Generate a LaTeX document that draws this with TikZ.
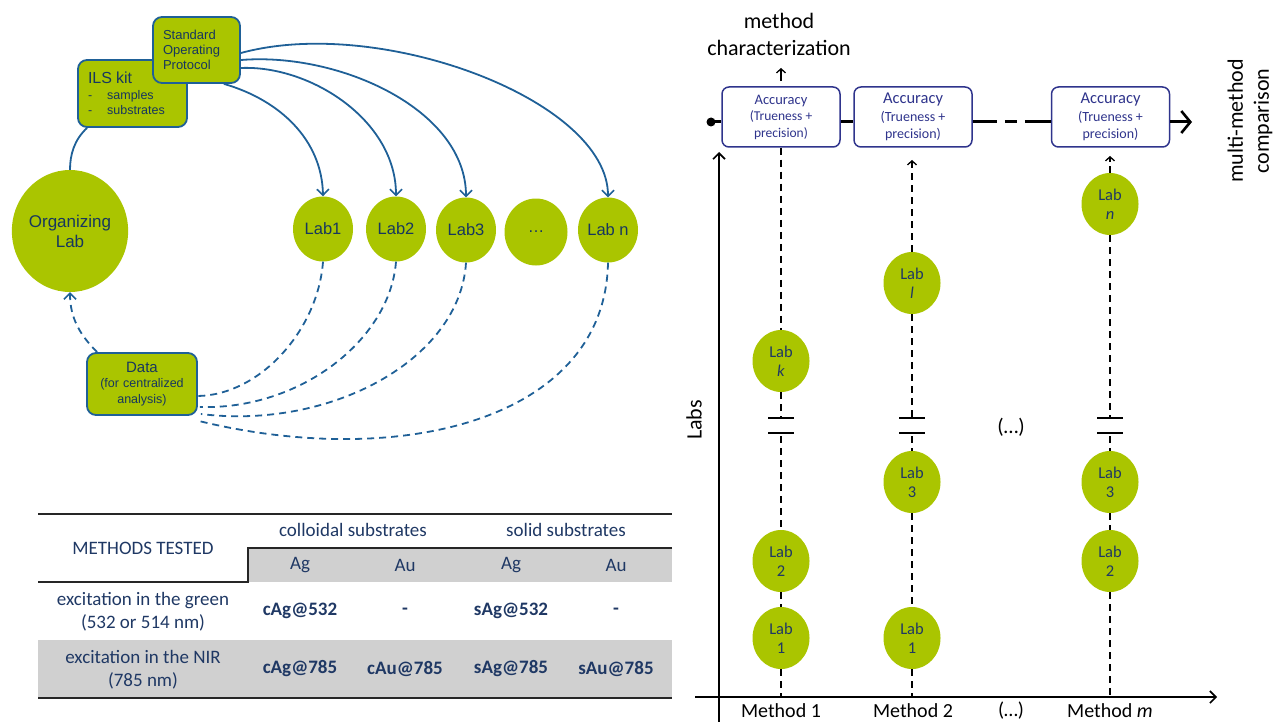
\documentclass[tikz,border=0pt]{standalone}
\usepackage{fontspec}
\setmainfont{Carlito}
\newfontfamily\arialf{Liberation Sans}
\usetikzlibrary{shapes.geometric,arrows.meta}
\definecolor{lgreen}{RGB}{170,197,0}
\definecolor{lblue}{RGB}{31,96,151}
\definecolor{ltext}{RGB}{23,55,94}
\definecolor{navy}{RGB}{31,56,100}
\definecolor{accb}{RGB}{47,52,140}
\definecolor{tgray}{RGB}{208,208,208}
\begin{document}
\begin{tikzpicture}[x=1pt,y=-1pt,
  greenlab/.style={ellipse, fill=lgreen, inner sep=0pt, text=ltext, font=\arialf\fontsize{16.5}{19}\selectfont, minimum width=60pt, minimum height=65pt, align=center},
  greenbox/.style={draw=lblue, line width=1.8pt, fill=lgreen, rounded corners=9pt, text=ltext, inner ysep=0pt, inner xsep=10pt},
  bluearrow/.style={draw=lblue, line width=1.8pt, -{Straight Barb[length=6pt,width=12pt,line width=1.6pt]}},
  bluedash/.style={draw=lblue, line width=1.8pt, dash pattern=on 7pt off 5pt},
  rlab/.style={ellipse, fill=lgreen, inner sep=0pt, text=navy, font=\fontsize{16.5}{19}\selectfont, minimum width=57pt, minimum height=62pt, align=center},
  accbox/.style={draw=accb, line width=1.5pt, fill=white, rounded corners=7pt, minimum width=118pt, minimum height=60pt, text=accb, align=center, inner sep=0pt},
  vdash/.style={black, line width=1.5pt, dash pattern=on 7pt off 5pt},
  smallarrow/.style={black, line width=1.3pt, -{Straight Barb[length=4pt,width=9pt,line width=1.3pt]}},
  axisline/.style={black, line width=1.6pt, -{Straight Barb[length=6pt,width=12pt,line width=1.6pt]}},
  brk/.style={black, line width=2.5pt},
  tabtext/.style={text=navy, font=\fontsize{19}{23}\selectfont, align=center, inner sep=0pt},
  tabbold/.style={text=navy, font=\bfseries\fontsize{19}{23}\selectfont, inner sep=0pt},
  tabrule/.style={line width=2pt, black!85}
]
\useasboundingbox (0,0) rectangle (1273,722);

% ---------------- left diagram ----------------
\node[greenlab, minimum width=116pt, minimum height=122pt, font=\arialf\fontsize{17}{20}\selectfont] (org) at (70,231) {Organizing\\Lab};
\node[greenlab] (lab1) at (323,229) {Lab1};
\node[greenlab] (lab2) at (396,229) {Lab2};
\node[greenlab] (lab3) at (466,230) {Lab3};
\node[greenlab, minimum width=63pt, minimum height=67pt] (labd) at (536,232) {…};
\node[greenlab] (labn) at (608,230) {Lab n};

\node[greenbox, minimum width=109pt, minimum height=67pt, text width=89pt, align=left, font=\arialf\fontsize{12.5}{15}\selectfont] (ils) at (132.5,93.5)
  {{\fontsize{16}{17}\selectfont ILS kit}\\[1pt]-\hspace{15pt}samples\\-\hspace{15pt}substrates};
\node[greenbox, minimum width=87pt, minimum height=66pt, text width=67pt, align=left, font=\arialf\fontsize{13}{15}\selectfont] (sop) at (196.5,50)
  {Standard\\Operating\\Protocol};
\node[greenbox, minimum width=110pt, minimum height=62pt, text width=90pt, align=center, font=\arialf\fontsize{12.5}{15.5}\selectfont] (data) at (142,384)
  {{\fontsize{15}{17}\selectfont Data}\\(for centralized\\analysis)};

\draw[draw=lblue, line width=1.8pt] ([xshift=10pt]ils.south west) .. controls (74,140) and (70,155) .. (org.north);
\draw[bluedash, -{Straight Barb[length=6pt,width=12pt,line width=1.6pt]}] ([xshift=11pt]data.north west) .. controls (80,335) and (70,318) .. (org.south);

\draw[bluearrow] ([xshift=-17pt]sop.south east) .. controls (280,100) and (322,140) .. (lab1.north);
\draw[bluearrow] ([yshift=-18pt]sop.east) .. controls (310,65) and (396,120) .. (lab2.north);
\draw[bluearrow] ([yshift=-10pt]sop.east) .. controls (340,52) and (466,110) .. (lab3.north);
\draw[bluearrow] ([yshift=-3pt]sop.east) .. controls (380,15) and (608,100) .. (labn.north);

\draw[bluedash] (lab1.south) .. controls (318,330) and (260,395) .. ([yshift=-12pt]data.east);
\draw[bluedash] (lab2.south) .. controls (390,340) and (300,410) .. ([shift={(2pt,-23pt)}]data.east);
\draw[bluedash] (lab3.south) .. controls (460,360) and (330,430) .. ([shift={(3pt,-30pt)}]data.east);
\draw[bluedash] (labn.south) .. controls (605,420) and (400,470) .. ([shift={(1pt,-37pt)}]data.east);

% ---------------- table ----------------
\fill[tgray] (248,548) rectangle (672,582);
\fill[tgray] (38,640) rectangle (672,698);
\coordinate (tl) at (38,514); \coordinate (tr) at (672,514);
\draw[tabrule] (tl) -- (tr);
\coordinate (hm) at (248,548); \coordinate (hr) at (672,548);
\coordinate (hb) at (248,582); \coordinate (hl) at (38,582);
\draw[tabrule] (hr) -- (hm) -- (hb) -- (hl);
\coordinate (bl) at (38,698); \coordinate (br) at (672,698);
\draw[tabrule] (bl) -- (br);

\node[tabtext] (mt) at (143,548) {METHODS TESTED};
\node[tabtext] (cs) at (353,530) {colloidal substrates};
\node[tabtext] (ss) at (566,530) {solid substrates};
\node[tabtext] (h1) at (300,565) {Ag};
\node[tabtext] (h2) at (405,565) {Au};
\node[tabtext] (h3) at (511,565) {Ag};
\node[tabtext] (h4) at (616,565) {Au};
\node[tabtext] (r1) at (143,612) {excitation in the green\\(532 or 514 nm)};
\node[tabbold] (r1a) at (300,611) {cAg@532};
\node[tabbold] (r1b) at (405,611) {-};
\node[tabbold] (r1c) at (511,611) {sAg@532};
\node[tabbold] (r1d) at (616,611) {-};
\node[tabtext] (r2) at (143,670) {excitation in the NIR\\(785 nm)};
\node[tabbold] (r2a) at (300,669) {cAg@785};
\node[tabbold] (r2b) at (405,669) {cAu@785};
\node[tabbold] (r2c) at (511,669) {sAg@785};
\node[tabbold] (r2d) at (616,669) {sAu@785};

% ---------------- right diagram ----------------
\coordinate (yb) at (719,722); \coordinate (yt) at (719,152);
\coordinate (xl) at (695,697); \coordinate (xr) at (1217,697);
\draw[axisline] (yb) -- (yt);
\draw[axisline] (xl) -- (xr);
\node[rotate=90, font=\fontsize{22}{26}\selectfont] (labs) at (694,420) {Labs};

\node[font=\fontsize{20}{24}\selectfont] (m1) at (781,711) {Method 1};
\node[font=\fontsize{20}{24}\selectfont] (m2) at (913,711) {Method 2};
\node[font=\fontsize{20}{24}\selectfont] (m3) at (1011,711) {(…)};
\node[font=\fontsize{20}{24}\selectfont] (m4) at (1110,711) {Method \textit{m}};

\node[font=\fontsize{22}{27}\selectfont, align=center] (mc) at (779,34) {method\\characterization};
\node[rotate=90, font=\fontsize{22}{26}\selectfont, align=center] (mm) at (1250,121) {multi-method\\comparison};

\node[circle, fill=black, inner sep=0pt, minimum size=9pt] (dot) at (711,122) {};
\coordinate (tip) at (1192,122);

\node[accbox, font=\fontsize{13.5}{16.5}\selectfont] (box1) at (781,117) {{\fontsize{14.5}{17}\selectfont Accuracy}\\(Trueness +\\precision)};
\node[accbox, font=\fontsize{14}{17.5}\selectfont] (box2) at (913,117) {{\fontsize{16.5}{18}\selectfont Accuracy}\\(Trueness +\\precision)};
\node[accbox, font=\fontsize{14}{17.5}\selectfont] (box3) at (1110.5,117) {{\fontsize{16.5}{18}\selectfont Accuracy}\\(Trueness +\\precision)};

\draw[line width=3pt] (dot.center) -- (box1.west |- dot);
\draw[line width=3pt] (box1.east |- dot) -- (box2.west |- dot);
\draw[line width=3pt, dash pattern=on 24pt off 8pt on 12pt off 8pt on 30pt] (box2.east |- dot) -- (box3.west |- dot);
\draw[line width=3pt, -{Straight Barb[length=9pt,width=22pt,line width=2.6pt]}] (box3.east |- dot) -- (tip);

\coordinate (mca) at (781,68);
\draw[smallarrow] ([yshift=5pt]box1.north) -- (mca);

% column 1
\node[rlab] (c1k) at (781,361) {Lab\\\textit{k}};
\node[rlab] (c1b) at (781,561) {Lab\\2};
\node[rlab] (c1a) at (781,638) {Lab\\1};
% column 2
\node[rlab] (c2l) at (912,283) {Lab\\\textit{l}};
\node[rlab] (c2c) at (912,482) {Lab\\3};
\node[rlab] (c2a) at (912,638) {Lab\\1};
% column 3
\node[rlab] (c3n) at (1110,204) {Lab\\\textit{n}};
\node[rlab] (c3c) at (1110,482) {Lab\\3};
\node[rlab] (c3b) at (1110,561) {Lab\\2};

\node[font=\fontsize{21}{24}\selectfont] (dd) at (1011,427) {(…)};

\coordinate (b1t) at (781,418); \coordinate (b1b) at (781,433);
\coordinate (b2t) at (912,418); \coordinate (b2b) at (912,433);
\coordinate (b3t) at (1110,418); \coordinate (b3b) at (1110,433);
\foreach \c in {b1t,b1b,b2t,b2b,b3t,b3b}{
  \draw[brk] ([xshift=-13pt]\c) -- ([xshift=13pt]\c);
}
\coordinate (x1) at (781,697); \coordinate (x2) at (912,697); \coordinate (x3) at (1110,697);
\coordinate (t2) at (912,160); \coordinate (t3) at (1110,156);

\draw[vdash] (box1.south) -- (c1k.north);
\draw[vdash] (c1k.south) -- (b1t);
\draw[vdash] ([yshift=-3pt]b1b) -- (c1b.north);
\draw[vdash] (c1b.south) -- (c1a.north);
\draw[vdash] (c1a.south) -- (x1);

\draw[vdash] (c2l.north) -- ([yshift=-4pt]t2);
\draw[smallarrow] ([yshift=-6pt]t2) -- (t2);
\draw[vdash] (c2l.south) -- (b2t);
\draw[vdash] ([yshift=-3pt]b2b) -- (c2c.north);
\draw[vdash] (c2c.south) -- (c2a.north);
\draw[vdash] (c2a.south) -- (x2);

\draw[vdash] (c3n.north) -- ([yshift=-4pt]t3);
\draw[smallarrow] ([yshift=-6pt]t3) -- (t3);
\draw[vdash] (c3n.south) -- (b3t);
\draw[vdash] ([yshift=-3pt]b3b) -- (c3c.north);
\draw[vdash] (c3c.south) -- (c3b.north);
\draw[vdash] (c3b.south) -- (x3);
\end{tikzpicture}
\end{document}
